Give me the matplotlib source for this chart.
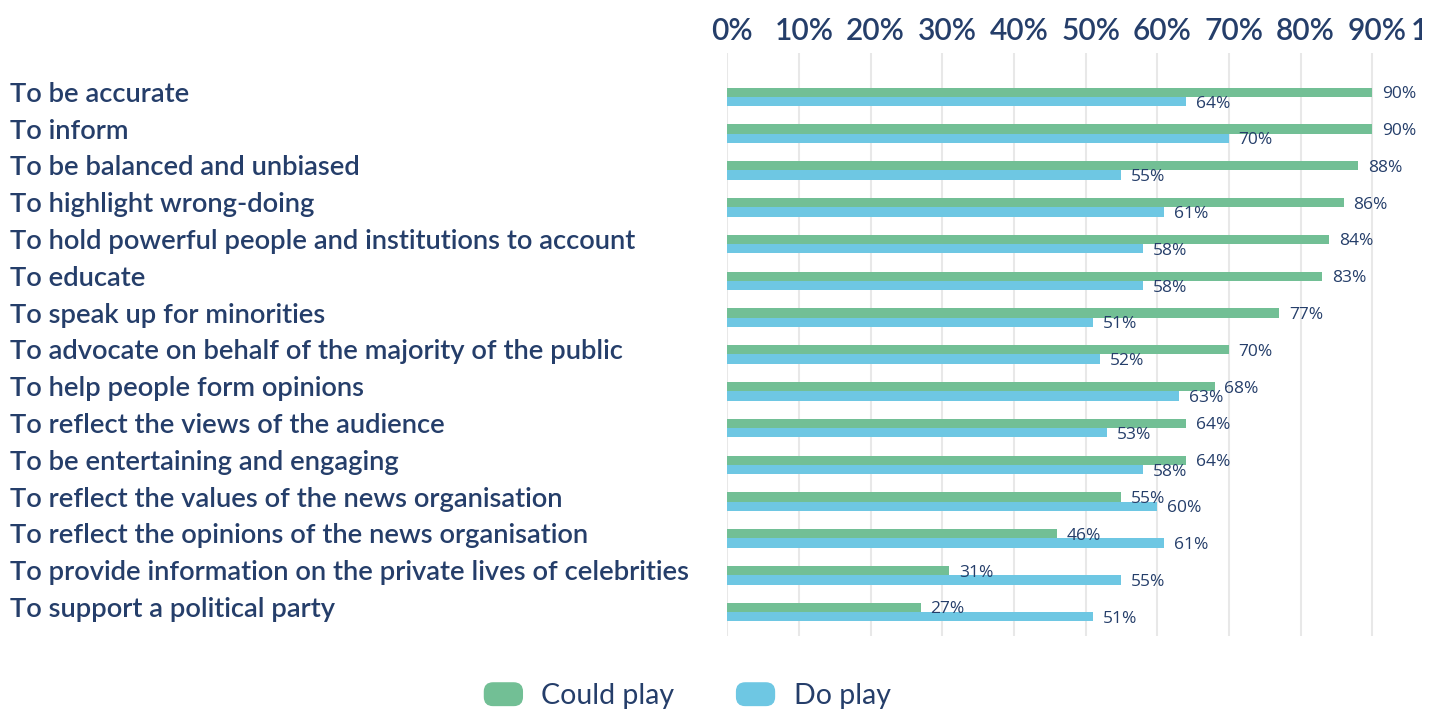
import matplotlib
matplotlib.use("Agg")
import matplotlib.pyplot as plt
from matplotlib.patches import Patch, FancyBboxPatch
from matplotlib.legend_handler import HandlerPatch
from matplotlib.transforms import ScaledTranslation, Bbox, TransformedBbox
import numpy as np

categories = [
    "To be accurate",
    "To inform",
    "To be balanced and unbiased",
    "To highlight wrong-doing",
    "To hold powerful people and institutions to account",
    "To educate",
    "To speak up for minorities",
    "To advocate on behalf of the majority of the public",
    "To help people form opinions",
    "To reflect the views of the audience",
    "To be entertaining and engaging",
    "To reflect the values of the news organisation",
    "To reflect the opinions of the news organisation",
    "To provide information on the private lives of celebrities",
    "To support a political party",
]
could_play = [90, 90, 88, 86, 84, 83, 77, 70, 68, 64, 64, 55, 46, 31, 27]
do_play = [64, 70, 55, 61, 58, 58, 51, 52, 63, 53, 58, 60, 61, 55, 51]
series_names = ["Could play", "Do play"]
x_ticks = list(range(0, 101, 10))
x_tick_labels = [f"{t}%" for t in x_ticks]

GREEN = "#72bf95"
BLUE = "#6ec7e3"
NAVY = "#253e6a"
GRID = "#e8e8e8"

W, H = 1439, 713
fig = plt.figure(figsize=(W / 100, H / 100), dpi=100)
ax_left, ax_right, ax_top, ax_bottom = 727.3, 1444.0, 53.0, 636.0
ax = fig.add_axes([ax_left / W, 1 - ax_bottom / H, (ax_right - ax_left) / W, (ax_bottom - ax_top) / H])

y = np.arange(len(categories))
h = 0.253
b1 = ax.barh(y - h / 2, could_play, height=h, color=GREEN, zorder=3)
b2 = ax.barh(y + h / 2, do_play, height=h, color=BLUE, zorder=3)

lab_font = dict(family=["Open Sans", "DejaVu Sans"], size=12.5, color=NAVY)
for cont, vals in ((b1, could_play), (b2, do_play)):
    anns = ax.bar_label(cont, labels=[f"{v}%" for v in vals], padding=7, **lab_font)
    for a in anns:
        a.set_va("center_baseline")
        a.set_zorder(4)

ax.set_xlim(0, 100)
ax.set_ylim(14.65, -1.193)
ax.set_xticks(x_ticks)
ax.set_xticklabels(x_tick_labels, family=["Lato", "DejaVu Sans"], fontsize=21.5, fontweight="semibold", color=NAVY)
ax.xaxis.tick_top()
ax.tick_params(axis="x", length=0, pad=6)
off = ScaledTranslation(5 / 100, 0, fig.dpi_scale_trans)
clip = TransformedBbox(Bbox([[0, 0], [1422 / W, 1]]), fig.transFigure)
for lbl in ax.get_xticklabels():
    lbl.set_transform(lbl.get_transform() + off)
    lbl.set_clip_box(clip)
    lbl.set_clip_on(True)

ax.set_yticks(y)
ax.set_yticklabels(categories, family=["Lato", "DejaVu Sans"], fontsize=19.7, fontweight="semibold", color=NAVY)
pad_px = ax_left - 10
ax.tick_params(axis="y", length=0, pad=pad_px * 72 / 100)
offy = ScaledTranslation(0, 5 / 100, fig.dpi_scale_trans)
for lbl in ax.get_yticklabels():
    lbl.set_ha("left")
    lbl.set_transform(lbl.get_transform() + offy)

ax.grid(axis="x", color=GRID, linewidth=1.5, zorder=0)
ax.grid(axis="y", visible=False)
for s in ax.spines.values():
    s.set_visible(False)


def rounded(legend, orig_handle, xdescent, ydescent, width, height, fontsize):
    return FancyBboxPatch((-xdescent, -ydescent), width, height,
                          boxstyle=f"round,pad=0,rounding_size={height * 0.38}")


handles = [Patch(color=GREEN, label=series_names[0]), Patch(color=BLUE, label=series_names[1])]
fig.legend(handles=handles, loc="center", bbox_to_anchor=(687.5 / W, 1 - 696 / H),
           ncol=2, frameon=False,
           prop=dict(family=["Lato", "DejaVu Sans"], size=20.5),
           labelcolor=NAVY, handlelength=1.33, handleheight=0.84,
           handletextpad=0.67, columnspacing=2.18, borderpad=0, borderaxespad=0,
           handler_map={Patch: HandlerPatch(patch_func=rounded)})

fig.savefig("out.png", dpi=100)
